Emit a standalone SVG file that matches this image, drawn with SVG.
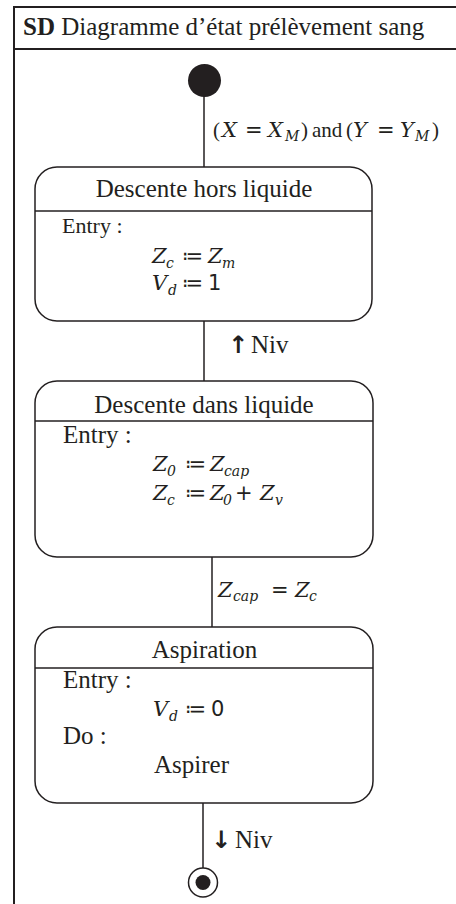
<svg xmlns="http://www.w3.org/2000/svg" width="456" height="904" viewBox="0 0 456 904">
<style>
text{font-family:"Liberation Serif","DejaVu Serif",serif;fill:#231f20}
.t{font-size:25px}
.e{font-size:22px}
.i{font-family:"DejaVu Serif","Liberation Serif",serif;font-style:italic;font-size:21px}
.s{font-family:"DejaVu Serif","Liberation Serif",serif;font-size:14px;font-style:italic}
.op{font-family:"DejaVu Sans","Liberation Sans",sans-serif;font-size:21px}
.ar{font-family:"DejaVu Sans","Liberation Sans",sans-serif;font-size:24px;font-weight:bold}
.box{fill:#fff;stroke:#231f20;stroke-width:1.5}
.ln{stroke:#231f20;stroke-width:1.5;fill:none}
</style>
<rect width="456" height="904" fill="#fff"/>
<g id="frame">
<rect x="14" y="7" width="470" height="930" fill="none" stroke="#231f20" stroke-width="2"/>
<line x1="14" y1="49" x2="470" y2="49" stroke="#231f20" stroke-width="2"/>
<text class="t" x="23" y="35"><tspan font-weight="bold">SD</tspan> Diagramme d’état prélèvement sang</text>
</g>
<g id="connectors">
<line class="ln" x1="204" y1="95" x2="204" y2="167"/>
<line class="ln" x1="204" y1="321" x2="204" y2="381"/>
<line class="ln" x1="212" y1="557" x2="212" y2="627"/>
<line class="ln" x1="203" y1="803" x2="203" y2="868"/>
<text font-size="21" y="137"><tspan x="213">(</tspan><tspan class="i" x="222">X</tspan><tspan class="op" x="245">=</tspan><tspan class="i" x="268">X</tspan><tspan class="s" x="285" dy="4">M</tspan><tspan x="301" dy="-4">)</tspan><tspan x="312">and</tspan><tspan x="346">(</tspan><tspan class="i" x="353">Y</tspan><tspan class="op" x="377">=</tspan><tspan class="i" x="400">Y</tspan><tspan class="s" x="415" dy="4">M</tspan><tspan x="432" dy="-4">)</tspan></text>
<text class="t" y="353"><tspan class="ar" x="228">↑</tspan><tspan x="251">Niv</tspan></text>
<text y="597"><tspan class="i" font-size="19" x="218">Z</tspan><tspan class="s" font-size="13" x="233" dy="4">cap</tspan><tspan class="op" font-size="19" x="271" dy="-4">=</tspan><tspan class="i" font-size="19" x="295">Z</tspan><tspan class="s" font-size="13" x="309" dy="4">c</tspan></text>
<text class="t" y="848"><tspan class="ar" x="211">↓</tspan><tspan x="235">Niv</tspan></text>
</g>
<g id="initial">
<circle cx="204.5" cy="80.5" r="16.5" fill="#231f20"/>
</g>
<g id="descente-hors-liquide">
<rect class="box" x="35" y="167" width="337" height="154" rx="22"/>
<line class="ln" x1="35" y1="211" x2="372" y2="211"/>
<text class="t" x="204" y="197" text-anchor="middle">Descente hors liquide</text>
<text class="e" x="62" y="233">Entry :</text>
<text y="263"><tspan class="i" x="152">Z</tspan><tspan class="s" x="166" dy="5">c</tspan><tspan class="op" x="182" dy="-5">≔</tspan><tspan class="i" x="208">Z</tspan><tspan class="s" x="222" dy="5">m</tspan></text>
<text y="290"><tspan class="i" x="152">V</tspan><tspan class="s" x="168" dy="5">d</tspan><tspan class="op" x="182" dy="-5">≔</tspan><tspan class="op" x="208">1</tspan></text>
</g>
<g id="descente-dans-liquide">
<rect class="box" x="35" y="381" width="338" height="176" rx="22"/>
<line class="ln" x1="35" y1="421" x2="373" y2="421"/>
<text class="t" x="204" y="413" text-anchor="middle">Descente dans liquide</text>
<text class="t" x="63" y="443">Entry :</text>
<text y="471"><tspan class="i" x="153">Z</tspan><tspan class="s" x="167" dy="5">0</tspan><tspan class="op" x="185" dy="-5">≔</tspan><tspan class="i" x="210">Z</tspan><tspan class="s" x="224" dy="5">cap</tspan></text>
<text y="500"><tspan class="i" x="153">Z</tspan><tspan class="s" x="167" dy="5">c</tspan><tspan class="op" x="185" dy="-5">≔</tspan><tspan class="i" x="210">Z</tspan><tspan class="s" x="223" dy="5">0</tspan><tspan class="op" x="235" dy="-5">+</tspan><tspan class="i" x="260">Z</tspan><tspan class="s" x="275" dy="5">v</tspan></text>
</g>
<g id="aspiration">
<rect class="box" x="35" y="627" width="338" height="176" rx="22"/>
<line class="ln" x1="35" y1="668" x2="373" y2="668"/>
<text class="t" x="204.5" y="658" text-anchor="middle">Aspiration</text>
<text class="t" x="63" y="688">Entry :</text>
<text y="716"><tspan class="i" x="153">V</tspan><tspan class="s" x="169" dy="5">d</tspan><tspan class="op" x="185" dy="-5">≔</tspan><tspan class="op" x="211">0</tspan></text>
<text class="t" x="63" y="744">Do :</text>
<text class="t" x="154" y="773">Aspirer</text>
</g>
<g id="final">
<circle cx="203" cy="882.5" r="14.5" fill="#fff" stroke="#231f20" stroke-width="1.5"/>
<circle cx="203" cy="882.5" r="7.5" fill="#231f20"/>
</g>
</svg>
